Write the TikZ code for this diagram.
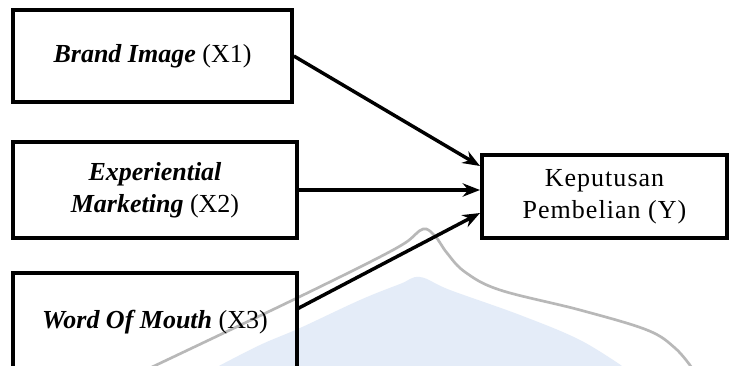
\documentclass[tikz,border=0pt]{standalone}
\usepackage{fontspec}
\setmainfont{Liberation Serif}
\usetikzlibrary{arrows.meta,calc}
\definecolor{wmblue}{RGB}{228,236,248}
\tikzset{
  varbox/.style={draw=black, line width=3pt, align=center, inner sep=0pt,
     font=\fontsize{19.5}{24}\selectfont},
  link/.style={line width=2.6pt, -{Stealth[length=13pt,width=10pt]}},
  wmline/.style={draw=black!28, line width=2pt},
  wmfill/.style={fill=wmblue, draw=none}
}
\begin{document}
\begin{tikzpicture}[x=0.75pt,y=-0.75pt]
\useasboundingbox (0,0) rectangle (730,365);
\clip (0,0) rectangle (730,365);
\fill[white] (0,0) rectangle (730,365);
% faint watermark (behind)
\path[wmfill] plot[smooth, tension=0.6] coordinates {(215,368) (260,345) (300,328) (360,300) (400,284) (420,277) (450,290) (520,315) (580,340) (625,368)} -- cycle;
\draw[wmline] plot[smooth, tension=0.6] coordinates {(150,368) (230,330) (297,298) (370,262) (405,243) (423,229) (435,236) (447,253) (465,272) (500,290) (580,310) (647,330) (675,348) (692,368)};
% diagram
\fill[white] (13,10) rectangle (292,102);
\fill[white] (13,142) rectangle (297,238);
\fill[white] (482,155) rectangle (727,238);
\node[varbox, minimum width=209pt, minimum height=69pt] (x1) at (152.5,56)
  {\textbf{\textit{Brand Image}} (X1)};
\node[varbox, minimum width=213pt, minimum height=72pt] (x2) at (155,190)
  {\textbf{\textit{Experiential}}\\\textbf{\textit{Marketing}} (X2)};
\node[varbox, minimum width=213pt, minimum height=74pt] (x3) at (155,322.5)
  {\textbf{\textit{Word Of Mouth}} (X3)};
\node[varbox, minimum width=184pt, minimum height=62pt] (y) at (604.5,196.5)
  {\addfontfeatures{LetterSpace=4}Keputusan\\\addfontfeatures{LetterSpace=4}Pembelian (Y)};
\coordinate (t1) at (480,166);
\coordinate (t2) at (480,190);
\coordinate (t3) at (480,213);
\coordinate (s3) at (297,309);
\draw[link] (x1.east) -- (t1);
\draw[link] (x2.east) -- (t2);
\draw[link] (s3) -- (t3);
\end{tikzpicture}
\end{document}
